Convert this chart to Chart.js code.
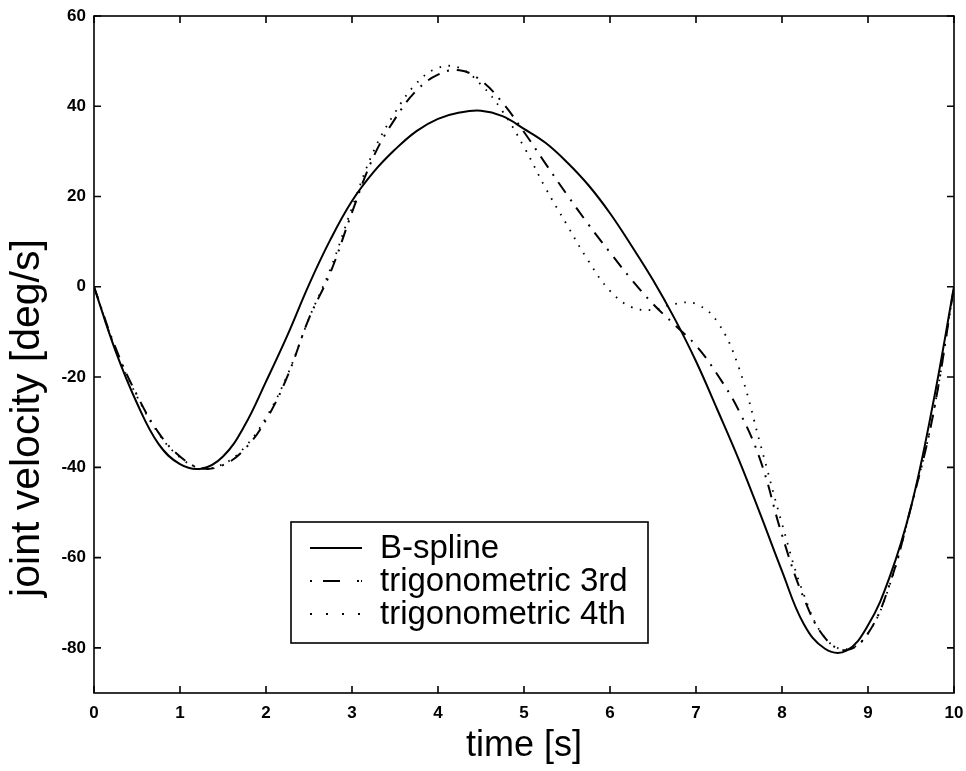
<!DOCTYPE html>
<html>
<head>
<meta charset="utf-8">
<script src="https://cdn.jsdelivr.net/npm/chart.js@4.4.1/dist/chart.umd.min.js"></script>
<style>
  html, body { margin: 0; padding: 0; background: #fff; }
  canvas { display: block; }
</style>
</head>
<body>
<canvas id="velChart" width="966" height="771"></canvas>
<script>
// time samples [s]
const timeS = [0, 0.25, 0.5, 0.75, 1, 1.25, 1.5, 1.75, 2, 2.25, 2.5, 2.75, 3, 3.25, 3.5, 3.75,
  4, 4.25, 4.5, 4.75, 5, 5.25, 5.5, 5.75, 6, 6.25, 6.5, 6.75, 7, 7.25, 7.5, 7.75,
  8, 8.25, 8.5, 8.75, 9, 9.25, 9.5, 9.75, 10];

// joint velocity [deg/s]
const bSpline = [0, -14.2, -25.8, -34.8, -39.3, -40.3, -37.6, -30.8, -21, -10.7, 0.5, 10.5, 19, 25.4,
  30.4, 34.5, 37.2, 38.6, 39, 37.8, 35, 31.9, 27.6, 22.5, 16.3, 9.1, 1.5, -7, -16.5, -27.3,
  -38.4, -50.5, -63, -74.6, -80.2, -80.6, -75, -64.4, -48.8, -26.5, 0];
const trig3 = [0, -13.5, -24, -32.3, -37.6, -40.2, -39.5, -36, -29.5, -19.8, -7, 3.2, 16.5, 28.8,
  37.2, 43.5, 47, 48, 45.7, 40.8, 34.3, 27.3, 20.4, 13.8, 7.6, 1.6, -3.8, -8.4, -13, -19.5,
  -27.5, -38.5, -55, -68.8, -77.8, -80.5, -76.8, -66, -48.8, -29, 0];
const trig4 = [0, -13.8, -24.3, -32.5, -37.8, -40.2, -39.3, -35.6, -29, -19.5, -7, 4, 17.5, 30,
  38.6, 45.1, 48.5, 48.5, 44.8, 38.9, 31, 21.9, 13.7, 5.7, -0.9, -4.5, -5.1, -3.8, -3.8, -7.8,
  -18, -35, -52.5, -68, -77.8, -80.3, -76.8, -66.2, -48.8, -29, 0];

const xTicks = [0, 1, 2, 3, 4, 5, 6, 7, 8, 9, 10];
const yTicks = [-80, -60, -40, -20, 0, 20, 40, 60];

const seriesNames = ['B-spline', 'trigonometric 3rd', 'trigonometric 4th'];
const seriesDash = [[], [13, 8, 2, 8], [1.6, 7.5]];
const legendDash = [[], [2, 11, 17, 17, 2], [2, 14]];
const yTitle = 'joint velocity [deg/s]';

const FONT = '"Liberation Sans", Arial, sans-serif';

const toPoints = (ys) => timeS.map((t, i) => ({ x: t, y: ys[i] }));

// box frame + inward ticks, matlab style
const frameTicks = {
  id: 'frameTicks',
  afterDraw(chart) {
    const { ctx, chartArea: a, scales } = chart;
    const tl = 7;
    ctx.save();
    ctx.strokeStyle = '#000';
    ctx.lineWidth = 1.6;
    ctx.strokeRect(a.left, a.top, a.right - a.left, a.bottom - a.top);
    ctx.beginPath();
    xTicks.forEach(v => {
      const px = scales.x.getPixelForValue(v);
      ctx.moveTo(px, a.bottom); ctx.lineTo(px, a.bottom - tl);
      ctx.moveTo(px, a.top); ctx.lineTo(px, a.top + tl);
    });
    yTicks.forEach(v => {
      const py = scales.y.getPixelForValue(v);
      ctx.moveTo(a.left, py); ctx.lineTo(a.left + tl, py);
      ctx.moveTo(a.right, py); ctx.lineTo(a.right - tl, py);
    });
    ctx.stroke();

    // y axis label, sits a bit below the middle like the original
    ctx.translate(28, 418);
    ctx.rotate(-Math.PI / 2);
    ctx.font = '41px ' + FONT;
    ctx.fillStyle = '#000';
    ctx.textAlign = 'center';
    ctx.textBaseline = 'middle';
    ctx.fillText(yTitle, 0, 0);
    ctx.restore();
  }
};

// boxed legend inside the plot
const boxLegend = {
  id: 'boxLegend',
  afterDraw(chart) {
    const { ctx } = chart;
    const bx = 291, by = 522, bw = 357, bh = 121;
    ctx.save();
    ctx.fillStyle = '#fff';
    ctx.fillRect(bx, by, bw, bh);
    ctx.strokeStyle = '#000';
    ctx.lineWidth = 1.6;
    ctx.strokeRect(bx, by, bw, bh);
    ctx.font = '33px ' + FONT;
    ctx.fillStyle = '#000';
    ctx.textBaseline = 'middle';
    seriesNames.forEach((name, i) => {
      const y = by + 26 + i * 33;
      ctx.beginPath();
      ctx.setLineDash(legendDash[i]);
      ctx.lineWidth = i === 2 ? 1.8 : 2;
      ctx.moveTo(310, y);
      ctx.lineTo(362, y);
      ctx.stroke();
      ctx.setLineDash([]);
      ctx.fillText(name, 380, y + 1);
    });
    ctx.restore();
  }
};

new Chart(document.getElementById('velChart'), {
  type: 'line',
  data: {
    datasets: [bSpline, trig3, trig4].map((ys, i) => ({
      label: seriesNames[i],
      data: toPoints(ys),
      borderColor: '#000',
      borderWidth: i === 2 ? 1.8 : 2,
      borderDash: seriesDash[i],
      pointRadius: 0,
      tension: 0.4,
      fill: false
    }))
  },
  options: {
    responsive: false,
    animation: false,
    layout: { padding: { top: 16, right: 12, left: 0, bottom: 0 } },
    scales: {
      x: {
        type: 'linear',
        min: 0,
        max: 10,
        afterBuildTicks: (s) => { s.ticks = xTicks.map(v => ({ value: v })); },
        afterFit: (s) => { s.height = 78; s.paddingLeft = 0; s.paddingRight = 0; },
        grid: { display: false, drawTicks: false },
        border: { display: false },
        ticks: {
          color: '#000',
          padding: 10,
          maxRotation: 0,
          font: { family: FONT, size: 17, weight: 'bold' }
        },
        title: {
          display: true,
          text: 'time [s]',
          color: '#000',
          padding: { top: 0, bottom: 3 },
          font: { family: FONT, size: 36 }
        }
      },
      y: {
        type: 'linear',
        min: -90,
        max: 60,
        afterBuildTicks: (s) => { s.ticks = yTicks.map(v => ({ value: v })); },
        afterFit: (s) => { s.width = 94; s.paddingTop = 0; s.paddingBottom = 0; },
        grid: { display: false, drawTicks: false },
        border: { display: false },
        ticks: {
          color: '#000',
          padding: 8,
          font: { family: FONT, size: 17, weight: 'bold' }
        },
        title: { display: false }
      }
    },
    plugins: {
      legend: { display: false },
      tooltip: { enabled: false }
    }
  },
  plugins: [frameTicks, boxLegend]
});
</script>
</body>
</html>
